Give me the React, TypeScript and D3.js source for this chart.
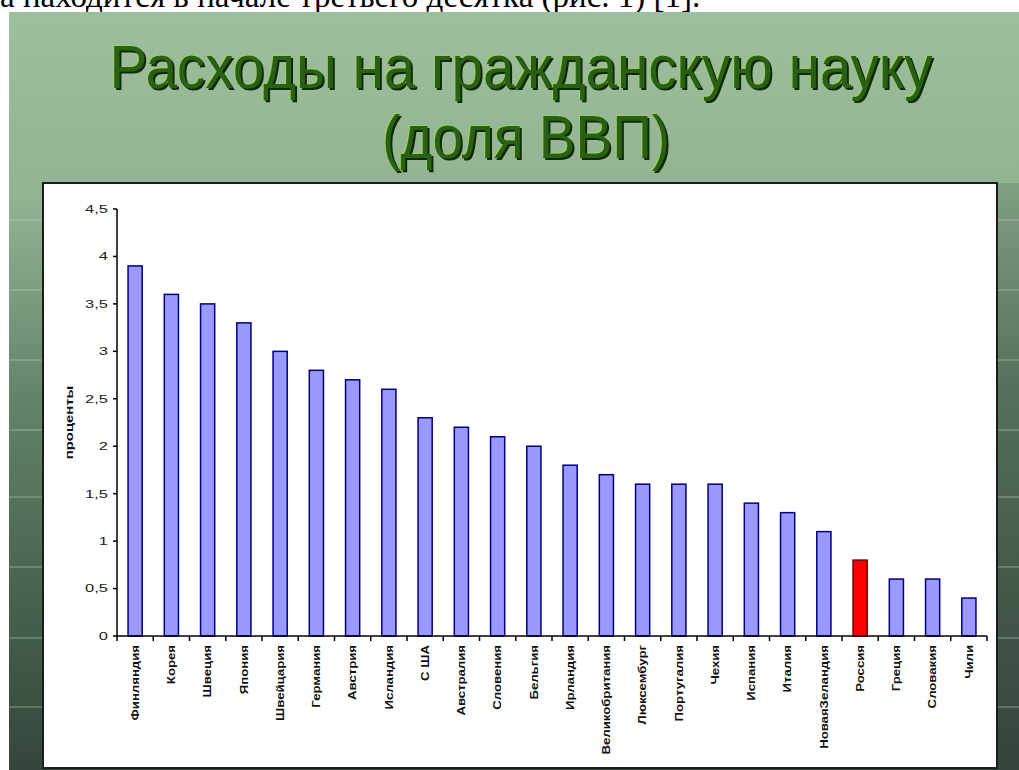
import { scaleBand, scaleLinear } from "d3";

const countries = [
  "Финляндия", "Корея", "Швеция", "Япония", "Швейцария", "Германия",
  "Австрия", "Исландия", "С ША", "Австралия", "Словения", "Бельгия",
  "Ирландия", "Великобритания", "Люксембург", "Португалия", "Чехия",
  "Испания", "Италия", "НоваяЗеландия", "Россия", "Греция", "Словакия", "Чили",
];
const shares = [
  3.9, 3.6, 3.5, 3.3, 3.0, 2.8, 2.7, 2.6, 2.3, 2.2, 2.1, 2.0,
  1.8, 1.7, 1.6, 1.6, 1.6, 1.4, 1.3, 1.1, 0.8, 0.6, 0.6, 0.4,
];
const highlighted = ["Россия"];
const yTicks = [0, 0.5, 1, 1.5, 2, 2.5, 3, 3.5, 4, 4.5];
const titleLines = ["Расходы на гражданскую науку", "(доля ВВП)"];
const topText = "а находится в начале третьего десятка (рис. 1) [1].";
const yLabel = "проценты";

const width = 1019;
const height = 770;
const plotLeft = 117;
const plotRight = 987;
const plotTop = 209;
const plotBottom = 636;
const stripeYs = [220, 290, 360, 430, 497, 567, 638, 707];
const labelFont = "'Liberation Sans', Arial, sans-serif";

export default function App() {
  const x = scaleBand<string>()
    .domain(countries)
    .range([plotLeft, plotRight])
    .paddingInner(0.61)
    .paddingOuter(0.305);
  const y = scaleLinear().domain([0, 4.5]).range([plotBottom, plotTop]);
  const step = x.step();
  const boundaries = countries.map((c) => (x(c) ?? 0) - (step * 0.61) / 2).concat(plotRight);

  return (
    <div style={{ position: "absolute", left: 0, top: 0 }}>
      <svg width={width} height={height} viewBox={`0 0 ${width} ${height}`}>
        <defs>
          <linearGradient id="slide" x1="0" y1="0" x2="0" y2="1">
            <stop offset="0" stopColor="#9cbf9d" />
            <stop offset="0.25" stopColor="#91b392" />
            <stop offset="0.5" stopColor="#65856c" />
            <stop offset="0.78" stopColor="#47614f" />
            <stop offset="1" stopColor="#34463a" />
          </linearGradient>
          <linearGradient id="rightStrip" x1="0" y1="0" x2="0" y2="1">
            <stop offset="0" stopColor="#7f9f82" />
            <stop offset="0.35" stopColor="#55705c" />
            <stop offset="1" stopColor="#35433a" />
          </linearGradient>
          <filter id="emboss" x="-5%" y="-20%" width="110%" height="140%">
            <feOffset in="SourceAlpha" dx={-1} dy={-1} result="hiOff" />
            <feFlood floodColor="#9ed35a" floodOpacity={0.9} />
            <feComposite in2="hiOff" operator="in" result="hi" />
            <feOffset in="SourceAlpha" dx={1.6} dy={1.6} result="shOff" />
            <feFlood floodColor="#0f2a06" />
            <feComposite in2="shOff" operator="in" result="sh" />
            <feMerge>
              <feMergeNode in="hi" />
              <feMergeNode in="sh" />
              <feMergeNode in="SourceGraphic" />
            </feMerge>
          </filter>
        </defs>
        <rect x={0} y={0} width={width} height={height} fill="#ffffff" />
        <text x={0} y={7} fontFamily="'Liberation Serif', 'Times New Roman', serif" fontSize={33} fill="#000">
          {topText}
        </text>
        <rect x={9} y={12} width={width - 9} height={height - 12} fill="url(#slide)" />
        <rect x={997} y={183} width={22} height={height - 183} fill="url(#rightStrip)" />
        {stripeYs.map((sy) => (
          <line key={sy} x1={9} x2={width} y1={sy} y2={sy} stroke="#b8d4b8" strokeOpacity={0.3} strokeWidth={2} />
        ))}

        <g filter="url(#emboss)" fontFamily={labelFont} fontSize={62} textAnchor="middle" fill="#2b6016">
          <text x={521} y={88} textLength={823} lengthAdjust="spacingAndGlyphs">{titleLines[0]}</text>
          <text x={526} y={158} textLength={288} lengthAdjust="spacingAndGlyphs">{titleLines[1]}</text>
        </g>

        <rect x={43} y={183} width={954} height={585} fill="#ffffff" stroke="#1c1c1c" strokeWidth={2} />

        {countries.map((c, i) => {
          const red = highlighted.includes(c);
          return (
            <rect
              key={c}
              x={x(c)}
              y={y(shares[i])}
              width={x.bandwidth()}
              height={y(0) - y(shares[i])}
              fill={red ? "#ff0000" : "#9999ff"}
              stroke={red ? "#7a0000" : "#000080"}
              strokeWidth={1.5}
            />
          );
        })}

        <line x1={plotLeft} x2={plotLeft} y1={plotTop} y2={plotBottom} stroke="#000" strokeWidth={1.5} />
        <line x1={plotLeft} x2={plotRight} y1={plotBottom} y2={plotBottom} stroke="#000" strokeWidth={1.5} />
        {yTicks.map((t) => (
          <g key={t}>
            <line x1={plotLeft - 4} x2={plotLeft} y1={y(t)} y2={y(t)} stroke="#000" strokeWidth={1.5} />
            <text
              transform={`translate(108,${y(t)}) scale(1.5,1)`}
              textAnchor="end"
              dy="0.35em"
              fontFamily={labelFont}
              fontSize={11}
              fill="#222"
            >
              {String(t).replace(".", ",")}
            </text>
          </g>
        ))}
        {boundaries.map((bx, i) => (
          <line key={i} x1={bx} x2={bx} y1={plotBottom} y2={plotBottom + 5} stroke="#000" strokeWidth={1.5} />
        ))}
        {countries.map((c) => (
          <text
            key={c}
            transform={`translate(${(x(c) ?? 0) + x.bandwidth() / 2},${plotBottom + 9}) rotate(-90) scale(1.2,1)`}
            textAnchor="end"
            dy="0.35em"
            fontFamily={labelFont}
            fontSize={11}
            fontWeight="bold"
            fill="#111"
          >
            {c}
          </text>
        ))}
        <text
          transform={`translate(69,${(plotTop + plotBottom) / 2}) rotate(-90) scale(1.35,1)`}
          textAnchor="middle"
          dy="0.35em"
          fontFamily={labelFont}
          fontSize={11}
          fontWeight="bold"
          fill="#111"
        >
          {yLabel}
        </text>
      </svg>
    </div>
  );
}
